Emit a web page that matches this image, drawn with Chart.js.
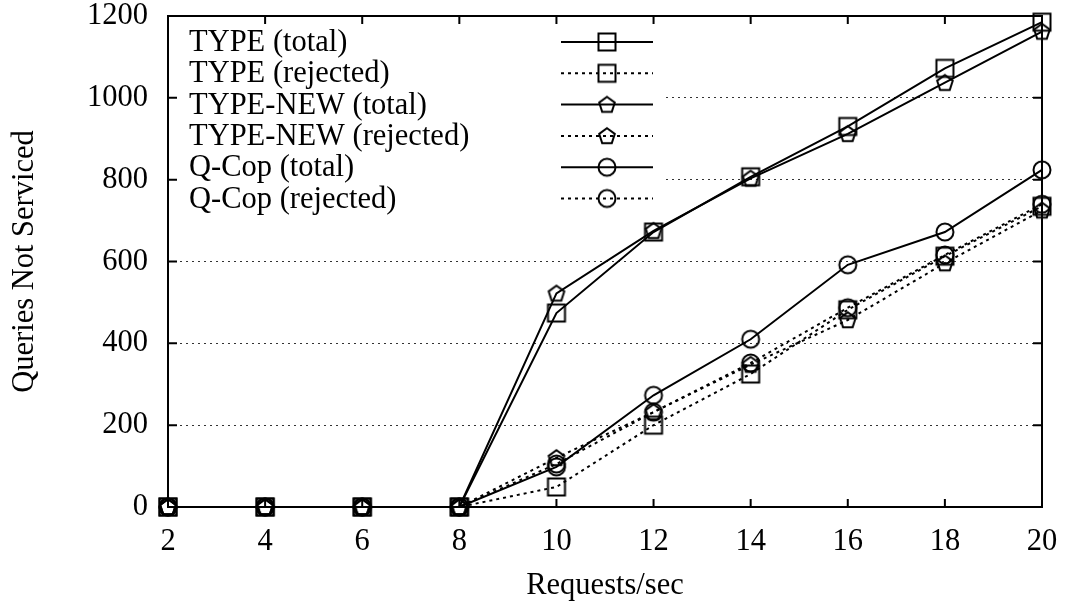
<!DOCTYPE html>
<html>
<head>
<meta charset="utf-8">
<title>Queries Not Serviced</title>
<script src="https://cdn.jsdelivr.net/npm/chart.js@4.4.1/dist/chart.umd.min.js"></script>
<style>
  html, body { margin: 0; padding: 0; background: #fff; }
  #wrap { width: 1068px; height: 606px; position: relative; }
</style>
</head>
<body>
<div id="wrap"><canvas id="chart"></canvas></div>
<script>
  /* ===== Data ===== */
  const requestsPerSec = [2, 4, 6, 8, 10, 12, 14, 16, 18, 20];
  const typeTotal      = [0, 0, 0, 0, 474, 672, 807, 930, 1072, 1185];
  const typeRejected   = [0, 0, 0, 0, 49, 200, 325, 482, 613, 735];
  const typeNewTotal   = [0, 0, 0, 0, 522, 675, 803, 912, 1037, 1162];
  const typeNewRejected = [0, 0, 0, 0, 120, 232, 348, 457, 596, 725];
  const qcopTotal      = [0, 0, 0, 0, 98, 273, 410, 592, 672, 824];
  const qcopRejected   = [0, 0, 0, 0, 105, 232, 352, 487, 616, 740];
  const xTicks = [2, 4, 6, 8, 10, 12, 14, 16, 18, 20];
  const yTicks = [0, 200, 400, 600, 800, 1000, 1200];

  const FONT = "'Liberation Serif', 'Times New Roman', serif";
  const FONT_SIZE = 30.5;

  /* ===== gnuplot-ish hollow markers ===== */
  function makeMarker(kind) {
    const c = document.createElement('canvas');
    c.width = 24; c.height = 24;
    const g = c.getContext('2d');
    g.strokeStyle = '#000';
    g.lineWidth = 2;
    g.beginPath();
    if (kind === 'square') {
      g.rect(3.5, 3.5, 17, 17);
    } else if (kind === 'circle') {
      g.arc(12, 12, 8.5, 0, Math.PI * 2);
    } else {
      for (let k = 0; k < 5; k++) {
        const a = -Math.PI / 2 + k * 2 * Math.PI / 5;
        const px = 12 + 8.2 * Math.cos(a), py = 12.5 + 8.2 * Math.sin(a);
        if (k) g.lineTo(px, py); else g.moveTo(px, py);
      }
      g.closePath();
    }
    g.stroke();
    return c;
  }
  const mSquare = makeMarker('square');
  const mPent = makeMarker('pentagon');
  const mCircle = makeMarker('circle');

  function series(label, values, marker, dotted) {
    return {
      label,
      data: values.map((v, i) => ({ x: requestsPerSec[i], y: v })),
      borderColor: '#000',
      borderWidth: 2,
      borderDash: dotted ? [3, 4] : [],
      backgroundColor: 'transparent',
      pointStyle: marker,
      pointRadius: 9,
      pointHoverRadius: 9,
      tension: 0,
      fill: false,
      clip: false
    };
  }

  const datasets = [
    series('TYPE (total)', typeTotal, mSquare, false),
    series('TYPE (rejected)', typeRejected, mSquare, true),
    series('TYPE-NEW (total)', typeNewTotal, mPent, false),
    series('TYPE-NEW (rejected)', typeNewRejected, mPent, true),
    series('Q-Cop (total)', qcopTotal, mCircle, false),
    series('Q-Cop (rejected)', qcopRejected, mCircle, true)
  ];

  /* ===== Key box inside the plot (top left) ===== */
  const keyPlugin = {
    id: 'key',
    beforeDatasetsDraw(chart) {
      const ctx = chart.ctx;
      ctx.save();
      ctx.fillStyle = '#fff';
      ctx.fillRect(179, 26, 483, 189);
      ctx.font = FONT_SIZE + 'px ' + FONT;
      ctx.fillStyle = '#000';
      ctx.textBaseline = 'middle';
      ctx.textAlign = 'left';
      chart.data.datasets.forEach((ds, i) => {
        const y = 42 + 31.3 * i;
        ctx.fillText(ds.label, 189, y + 1);
        ctx.beginPath();
        ctx.lineWidth = ds.borderWidth;
        ctx.strokeStyle = ds.borderColor;
        ctx.setLineDash(ds.borderDash);
        ctx.moveTo(561, y);
        ctx.lineTo(653, y);
        ctx.stroke();
        ctx.setLineDash([]);
        const m = ds.pointStyle;
        ctx.drawImage(m, 607 - m.width / 2, y - m.height / 2);
      });
      ctx.restore();
    }
  };

  /* ===== Border + inward mirrored ticks ===== */
  const framePlugin = {
    id: 'frame',
    afterDraw(chart) {
      const { ctx, chartArea: a, scales } = chart;
      ctx.save();
      ctx.strokeStyle = '#000';
      ctx.lineWidth = 2;
      ctx.setLineDash([]);
      ctx.beginPath();
      scales.x.ticks.forEach(t => {
        const px = scales.x.getPixelForValue(t.value);
        ctx.moveTo(px, a.bottom); ctx.lineTo(px, a.bottom - 8);
        ctx.moveTo(px, a.top); ctx.lineTo(px, a.top + 8);
      });
      scales.y.ticks.forEach(t => {
        const py = scales.y.getPixelForValue(t.value);
        ctx.moveTo(a.left, py); ctx.lineTo(a.left + 9, py);
        ctx.moveTo(a.right, py); ctx.lineTo(a.right - 9, py);
      });
      ctx.stroke();
      ctx.strokeRect(a.left, a.top, a.right - a.left, a.bottom - a.top);
      ctx.restore();
    }
  };

  Chart.defaults.font.family = FONT;
  Chart.defaults.font.size = FONT_SIZE;
  Chart.defaults.color = '#000';

  new Chart(document.getElementById('chart'), {
    type: 'line',
    data: { datasets },
    options: {
      responsive: true,
      maintainAspectRatio: false,
      animation: false,
      events: [],
      layout: { padding: { top: 16, right: 26, left: 0, bottom: 0 } },
      plugins: { legend: { display: false }, tooltip: { enabled: false } },
      scales: {
        x: {
          type: 'linear',
          min: xTicks[0],
          max: xTicks[xTicks.length - 1],
          afterBuildTicks: s => { s.ticks = xTicks.map(v => ({ value: v })); },
          afterFit: s => { s.height = 99; s.paddingLeft = 0; s.paddingRight = 0; },
          grid: { display: false, drawTicks: false },
          border: { display: false },
          ticks: { padding: 17, maxRotation: 0, autoSkip: false, callback: v => String(v) },
          title: { display: true, text: 'Requests/sec', padding: { top: 0, bottom: 2 } }
        },
        y: {
          min: yTicks[0],
          max: yTicks[yTicks.length - 1],
          afterBuildTicks: s => { s.ticks = yTicks.map(v => ({ value: v })); },
          afterFit: s => { s.width = 168; s.paddingTop = 0; s.paddingBottom = 0; },
          grid: { display: true, drawTicks: false, color: '#333', lineWidth: 1 },
          border: { display: false, dash: [2, 4] },
          ticks: { padding: 20, callback: v => String(v) },
          title: { display: true, text: 'Queries Not Serviced', padding: { top: 7, bottom: 0 } }
        }
      }
    },
    plugins: [keyPlugin, framePlugin]
  });
</script>
</body>
</html>
